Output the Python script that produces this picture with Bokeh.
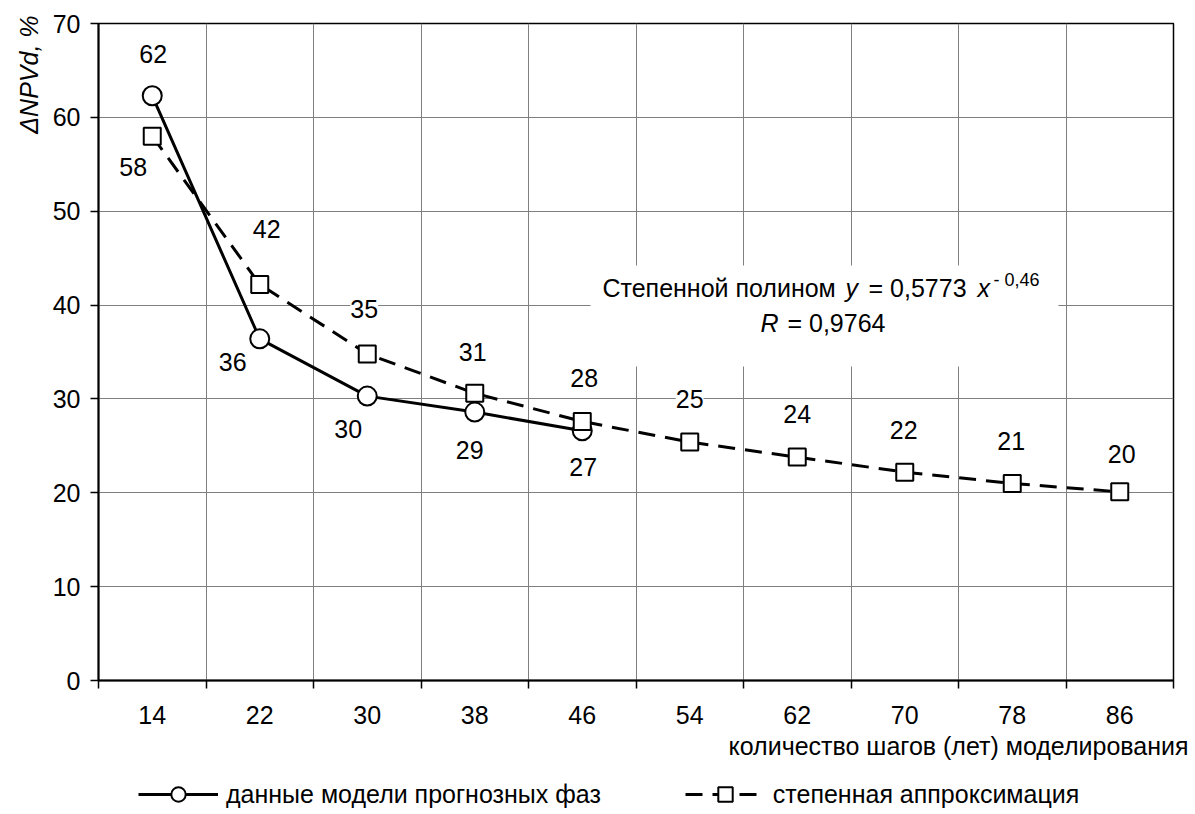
from bokeh.plotting import figure
from bokeh.layouts import column
from bokeh.models import (Range1d, FixedTicker, ColumnDataSource, LabelSet, Label,
                          BoxAnnotation, Legend, LegendItem, Title)
from bokeh.core.properties import value
from bokeh.embed import file_html
from bokeh.resources import INLINE

# ---------------- data ----------------
steps = ["14", "22", "30", "38", "46", "54", "62", "70", "78", "86"]
model_count = 5
model_values = [62.3, 36.4, 30.3, 28.6, 26.6]
approx_values = [58.0, 42.2, 34.8, 30.6, 27.6, 25.4, 23.8, 22.2, 21.0, 20.1]
y_ticks = [0, 10, 20, 30, 40, 50, 60, 70]
legend_labels = ["данные модели прогнозных фаз", "степенная аппроксимация"]
x_title = "количество шагов (лет) моделирования"
y_title = "ΔNPVd, %"
formula_line1 = ["Степенной полином", "y", "= 0,5773", "x", "- 0,46"]
formula_line2 = ["R", "= 0,9764"]

# category positions on the x scale (index of each category)
x_pos = list(range(len(steps)))
model_pos = x_pos[:model_count]
edge_ticks = [i - 0.5 for i in range(len(steps) + 1)]

# ---------------- styles ----------------
FONT = "Liberation Sans"
FS = "25px"
model_lbl_dx = [1, -27, -19, -5, 1]
model_lbl_dy = [42, -23, -33, -38, -36]
approx_lbl_dx = [-19, 7, -3, -2, 2, 0, 0, -1, -1, 2]
approx_lbl_dy = [-31, 55, 45, 41, 43, 43, 43, 42, 42, 38]

MODEL_LINE = dict(line_width=3, line_color="black")
APPROX_LINE = dict(line_width=3, line_color="black", line_dash="17 10")
MODEL_MARK = dict(marker="circle", size=19, fill_color="white", line_color="black", line_width=2)
APPROX_MARK = dict(marker="square", size=17, fill_color="white", line_color="black", line_width=2)

p = figure(width=1192, height=776,
           x_range=Range1d(-0.5, len(steps) - 0.5),
           y_range=Range1d(0, 70),
           output_backend="svg", toolbar_location=None,
           min_border_left=98, min_border_right=19, min_border_top=23, min_border_bottom=96,
           background_fill_color="white", border_fill_color="white",
           outline_line_color="black", outline_line_width=1.5)

# grids
p.xgrid.ticker = FixedTicker(ticks=edge_ticks)
p.xgrid.grid_line_color = "#7f7f7f"
p.xgrid.grid_line_width = 1
p.ygrid.ticker = FixedTicker(ticks=y_ticks)
p.ygrid.grid_line_color = "#7f7f7f"
p.ygrid.grid_line_width = 1

# y axis
ya = p.yaxis[0]
ya.ticker = FixedTicker(ticks=y_ticks)
ya.major_tick_out = 8
ya.major_tick_in = 0
ya.minor_tick_line_color = None
ya.axis_line_width = 2
ya.major_tick_line_width = 1.5
ya.major_label_standoff = 10
ya.major_label_text_font = FONT
ya.major_label_text_font_size = FS
ya.major_label_text_color = "black"

# x axis: labels at category centres, tick marks at category boundaries
xa = p.xaxis[0]
xa.ticker = FixedTicker(ticks=x_pos, minor_ticks=edge_ticks)
xa.major_label_overrides = {i: s for i, s in zip(x_pos, steps)}
xa.major_tick_line_color = None
xa.major_tick_out = 0
xa.major_tick_in = 0
xa.minor_tick_out = 8
xa.minor_tick_in = 0
xa.minor_tick_line_color = "black"
xa.minor_tick_line_width = 1.5
xa.axis_line_width = 2
xa.major_label_standoff = 17
xa.major_label_text_font = FONT
xa.major_label_text_font_size = FS
xa.major_label_text_color = "black"

# titles
p.add_layout(Title(text=y_title, align="right", text_font=FONT, text_font_size=FS,
                   text_font_style="italic", text_color="black", standoff=14, offset=-8), "left")
p.add_layout(Title(text=x_title, align="right", text_font=FONT, text_font_size=FS,
                   text_font_style="normal", text_color="black", standoff=6, offset=-15), "below")

# series
approx_line = p.line(x_pos, approx_values, **APPROX_LINE)
model_line = p.line(model_pos, model_values, **MODEL_LINE)
model_pts = p.scatter(model_pos, model_values, **MODEL_MARK)
approx_pts = p.scatter(x_pos, approx_values, **APPROX_MARK)

# formula box (white background)
p.add_layout(BoxAnnotation(left=4.077, right=8.43, bottom=33.45, top=44.21,
                           fill_color="white", fill_alpha=1, line_alpha=0, level="annotation"))

# data labels
msrc = ColumnDataSource(dict(x=model_pos, y=model_values,
                             t=[f"{v:.0f}" for v in model_values],
                             dx=model_lbl_dx, dy=model_lbl_dy))
asrc = ColumnDataSource(dict(x=x_pos, y=approx_values,
                             t=[f"{v:.0f}" for v in approx_values],
                             dx=approx_lbl_dx, dy=approx_lbl_dy))
for src in (msrc, asrc):
    p.add_layout(LabelSet(x="x", y="y", text="t", x_offset="dx", y_offset="dy", source=src,
                          text_align="center", text_baseline="middle",
                          text_font=value(FONT), text_font_size=FS, text_color="black",
                          background_fill_color="white"))

# formula text
def lab(x, y, t, size=FS, style="normal"):
    p.add_layout(Label(x=x, y=y, text=t, text_font=FONT, text_font_size=size,
                       text_font_style=style, text_align="left", text_baseline="middle",
                       text_color="black"))

lab(4.188, 41.77, formula_line1[0])
lab(6.449, 41.77, formula_line1[1], style="italic")
lab(6.663, 41.77, formula_line1[2])
lab(7.677, 41.77, formula_line1[3], style="italic")
lab(7.826, 42.70, formula_line1[4], size="18px")
lab(5.658, 38.04, formula_line2[0], style="italic")
lab(5.909, 38.04, formula_line2[1])

# legend strip below the chart (its frame covers the whole strip)
LW, LH = 1192, 36
lf = figure(width=LW, height=LH, x_range=Range1d(0, LW), y_range=Range1d(0, LH),
            output_backend="svg", toolbar_location=None,
            x_axis_location=None, y_axis_location=None,
            min_border=0, outline_line_color=None,
            background_fill_color="white", border_fill_color="white")
lf.xgrid.visible = False
lf.ygrid.visible = False
# legend swatches share the series styles; their own points lie outside the strip's view
k_model_line = lf.line([-20, -10], [-20, -20], **MODEL_LINE)
k_model_pts = lf.scatter([-20], [-20], **MODEL_MARK)
k_approx_line = lf.line([-20, -10], [-20, -20], **APPROX_LINE)
k_approx_pts = lf.scatter([-20], [-20], **APPROX_MARK)
legend = Legend(items=[LegendItem(label=legend_labels[0], renderers=[k_model_line, k_model_pts]),
                       LegendItem(label=legend_labels[1], renderers=[k_approx_line, k_approx_pts])],
                orientation="horizontal", location=(40, 0),
                glyph_width=80, glyph_height=36, label_standoff=8, spacing=84,
                padding=0, margin=0, border_line_alpha=0, background_fill_alpha=0,
                label_text_font=FONT, label_text_font_size=FS, label_text_color="black")
lf.add_layout(legend)

layout = column(p, lf, spacing=0)
open("out.html", "w").write(file_html(layout, INLINE))
